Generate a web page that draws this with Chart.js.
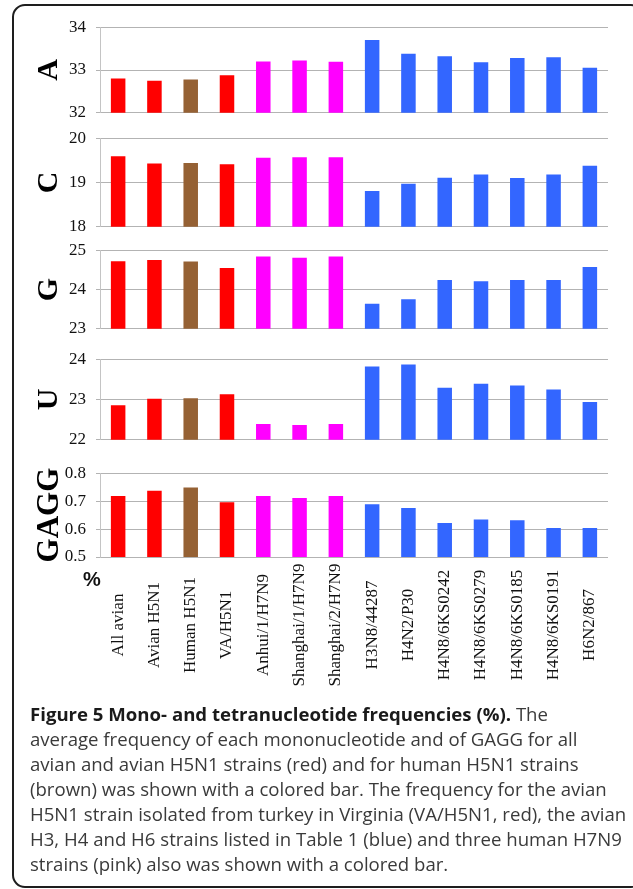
<!DOCTYPE html>
<html>
<head>
<meta charset="utf-8">
<script src="https://cdn.jsdelivr.net/npm/chart.js@4.4.0/dist/chart.umd.min.js"></script>
<style>
    html, body { margin: 0; padding: 0; background: #fff; }
    #page { position: relative; width: 633px; height: 889px; overflow: hidden; background: #fff; }
    #frame {
        position: absolute; left: 12px; top: 4px; width: 632px; height: 884px;
        border: 2px solid #1e1e1e; border-radius: 13px; box-sizing: border-box;
    }
    canvas { position: absolute; left: 0; }
    #percent {
        position: absolute; left: 83px; top: 568px;
        font: bold 20px "Liberation Sans", Arial, sans-serif; color: #111;
    }
    #caption {
        position: absolute; left: 30px; top: 701px; white-space: nowrap;
        font: 18.6px/25px "Open Sans", sans-serif; color: #3a3a3a;
    }
    #caption b { color: #1a1a1a; }
</style>
</head>
<body>
<div id="page">
    <div id="frame"></div>
    <canvas id="chartA"></canvas>
    <canvas id="chartC"></canvas>
    <canvas id="chartG"></canvas>
    <canvas id="chartU"></canvas>
    <canvas id="chartGAGG"></canvas>
    <div id="percent">%</div>
    <div id="caption"><b>Figure 5 Mono- and tetranucleotide frequencies (%).</b> The<br>average frequency of each mononucleotide and of GAGG for all<br>avian and avian H5N1 strains (red) and for human H5N1 strains<br>(brown) was shown with a colored bar. The frequency for the avian<br>H5N1 strain isolated from turkey in Virginia (VA/H5N1, red), the avian<br>H3, H4 and H6 strains listed in Table 1 (blue) and three human H7N9<br>strains (pink) also was shown with a colored bar.</div>
</div>
<script>
// strains on the x axis
const categories = ['All avian', 'Avian H5N1', 'Human H5N1', 'VA/H5N1', 'Anhui/1/H7N9',
    'Shanghai/1/H7N9', 'Shanghai/2/H7N9', 'H3N8/44287', 'H4N2/P30', 'H4N8/6KS0242',
    'H4N8/6KS0279', 'H4N8/6KS0185', 'H4N8/6KS0191', 'H6N2/867'];
const groups = ['avian', 'avian', 'human', 'avian', 'h7n9', 'h7n9', 'h7n9',
    'other', 'other', 'other', 'other', 'other', 'other', 'other'];

// frequencies (%)
const aValues = [32.80, 32.75, 32.78, 32.88, 33.20, 33.22, 33.19, 33.70, 33.38, 33.32, 33.18, 33.28, 33.30, 33.05];
const cValues = [19.59, 19.43, 19.44, 19.41, 19.56, 19.57, 19.57, 18.81, 18.97, 19.11, 19.18, 19.10, 19.18, 19.38];
const gValues = [24.72, 24.75, 24.71, 24.55, 24.84, 24.81, 24.84, 23.64, 23.75, 24.24, 24.21, 24.24, 24.24, 24.57];
const uValues = [22.86, 23.02, 23.03, 23.13, 22.39, 22.37, 22.39, 23.82, 23.87, 23.29, 23.39, 23.35, 23.25, 22.94];
const gaggValues = [0.718, 0.737, 0.749, 0.696, 0.718, 0.711, 0.718, 0.689, 0.675, 0.622, 0.634, 0.632, 0.604, 0.604];

// y ranges: min, max, step
const aTicks = [32, 34, 1];
const cTicks = [18, 20, 1];
const gTicks = [23, 25, 1];
const uTicks = [22, 24, 1];
const gaggTicks = [0.5, 0.8, 0.1];

const groupColors = { avian: '#ff0000', human: '#956134', h7n9: '#ff00ff', other: '#3366ff' };
const barColors = groups.map(g => groupColors[g]);

const AXIS_X = 100;

const xLabelPlugin = {
    id: 'xLabels',
    afterDraw(chart) {
        const { ctx, chartArea } = chart;
        const x = chart.scales.x;
        ctx.save();
        ctx.font = '17px "Liberation Serif", serif';
        ctx.fillStyle = '#111';
        ctx.textAlign = 'center';
        ctx.textBaseline = 'middle';
        categories.forEach((label, i) => {
            ctx.save();
            ctx.translate(x.getPixelForValue(i), chartArea.bottom + 68);
            ctx.rotate(-Math.PI / 2);
            ctx.fillText(label, 0, 0);
            ctx.restore();
        });
        ctx.restore();
    }
};

function panelConfig(title, values, ticks, extraBottom, titleSize) {
    const decimals = ticks[2] < 1 ? 1 : 0;
    return {
        type: 'bar',
        data: {
            labels: categories,
            datasets: [{
                data: values,
                backgroundColor: barColors,
                borderWidth: 0,
                barPercentage: 0.4,
                categoryPercentage: 1.0
            }]
        },
        options: {
            responsive: false,
            maintainAspectRatio: false,
            animation: false,
            devicePixelRatio: 1,
            layout: { padding: { top: 0, bottom: extraBottom, left: 0, right: 25 } },
            plugins: {
                legend: { display: false },
                tooltip: { enabled: false }
            },
            scales: {
                x: { display: false },
                y: {
                    min: ticks[0],
                    max: ticks[1],
                    afterFit: scale => { scale.width = AXIS_X; },
                    ticks: {
                        stepSize: ticks[2],
                        autoSkip: false,
                        padding: 10,
                        color: '#111',
                        font: { family: '"Liberation Serif", serif', size: 17 },
                        callback: v => Number(v).toFixed(decimals)
                    },
                    grid: { color: '#b3b3b3', lineWidth: 1, tickLength: 4 },
                    border: { color: '#c4c4c4' },
                    title: {
                        display: true,
                        text: title,
                        color: '#000',
                        padding: { top: 31, bottom: 0 },
                        font: { family: '"Liberation Serif", serif', size: titleSize, weight: 'bold' }
                    }
                }
            }
        },
        plugins: extraBottom ? [xLabelPlugin] : []
    };
}

// build once to learn the margins around the plot area, then rebuild at the size
// that puts the plot area between gridTop and gridBottom on the page
function makePanel(id, title, values, ticks, gridTop, gridBottom, extraBottom, titleSize) {
    const canvas = document.getElementById(id);
    canvas.width = 633;
    canvas.height = 300;
    let chart = new Chart(canvas, panelConfig(title, values, ticks, extraBottom, titleSize));
    const offTop = chart.chartArea.top;
    const offBottom = canvas.height - chart.chartArea.bottom;
    chart.destroy();

    canvas.width = 633;
    canvas.height = (gridBottom - gridTop) + offTop + offBottom;
    canvas.style.width = '633px';
    canvas.style.height = canvas.height + 'px';
    canvas.style.top = (gridTop - offTop) + 'px';
    return new Chart(canvas, panelConfig(title, values, ticks, extraBottom, titleSize));
}

makePanel('chartA', 'A', aValues, aTicks, 27, 113, 0, 30);
makePanel('chartC', 'C', cValues, cTicks, 138, 227, 0, 30);
makePanel('chartG', 'G', gValues, gTicks, 250, 329, 0, 30);
makePanel('chartU', 'U', uValues, uTicks, 359, 440, 0, 30);
makePanel('chartGAGG', 'GAGG', gaggValues, gaggTicks, 473, 557, 140, 31);
</script>
</body>
</html>
